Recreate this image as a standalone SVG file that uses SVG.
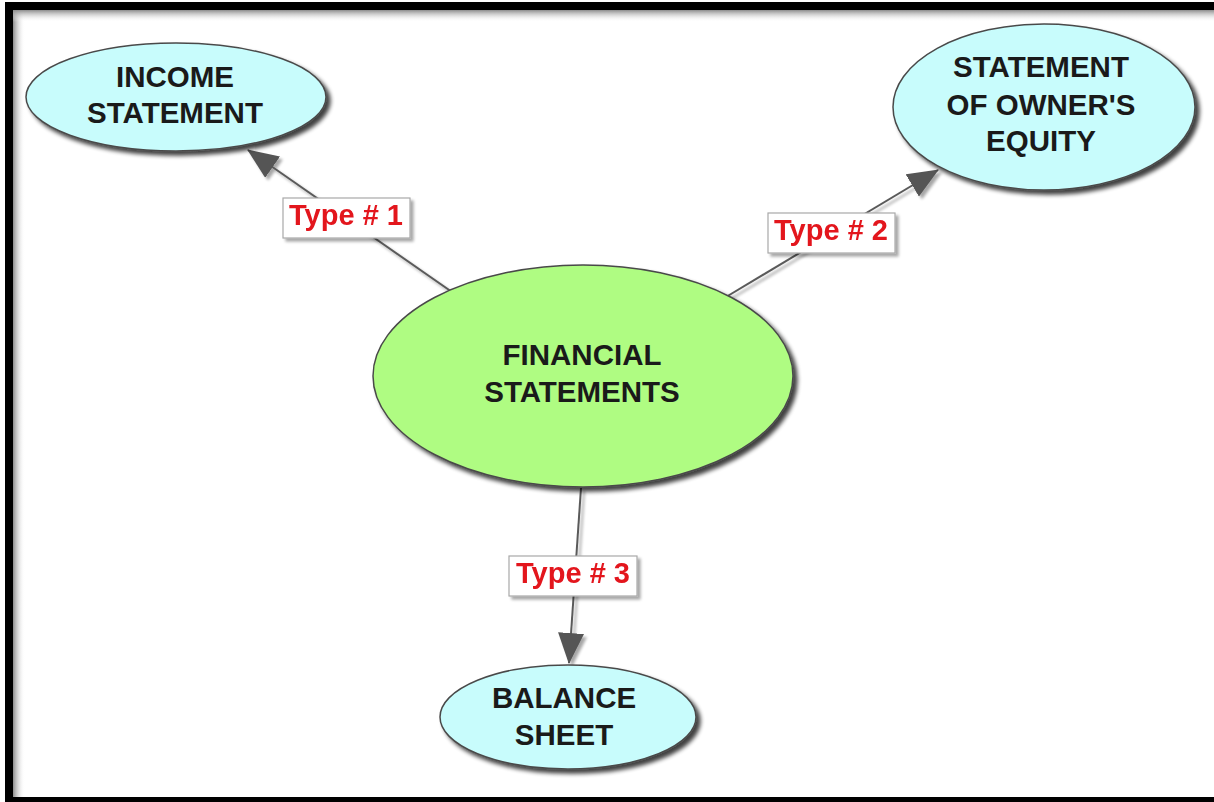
<svg xmlns="http://www.w3.org/2000/svg" width="1214" height="802" viewBox="0 0 1214 802">
  <defs>
    <style>
      .node-text { font-family: "Liberation Sans", Arial, sans-serif; font-weight: bold; font-size: 29.5px; fill: #1a1a1a; text-anchor: middle; }
      .label-text { font-family: "Liberation Sans", Arial, sans-serif; font-weight: bold; font-size: 29px; fill: #e3151f; text-anchor: middle; }
      .leaf { fill: #c8fcfc; stroke: #4a4a4a; stroke-width: 1.5; }
      .hub { fill: #affc82; stroke: #4a4a4a; stroke-width: 1.5; }
      .edge { stroke: #5a5a5a; stroke-width: 2; fill: none; }
      .label-box { fill: #ffffff; stroke: #a8a8a8; stroke-width: 1.2; }
    </style>
    <filter id="shadow" x="-20%" y="-20%" width="140%" height="150%">
      <feGaussianBlur in="SourceAlpha" stdDeviation="2.2"/>
      <feOffset dx="4" dy="4" result="off"/>
      <feComponentTransfer><feFuncA type="linear" slope="0.75"/></feComponentTransfer>
      <feMerge><feMergeNode/><feMergeNode in="SourceGraphic"/></feMerge>
    </filter>
    <filter id="soft" x="-20%" y="-20%" width="140%" height="150%">
      <feGaussianBlur in="SourceAlpha" stdDeviation="1.5"/>
      <feOffset dx="3" dy="3"/>
      <feComponentTransfer><feFuncA type="linear" slope="0.35"/></feComponentTransfer>
      <feMerge><feMergeNode/><feMergeNode in="SourceGraphic"/></feMerge>
    </filter>
    <marker id="arrow" markerUnits="userSpaceOnUse" markerWidth="31" markerHeight="26" viewBox="0 0 31 26" refX="30" refY="13" orient="auto">
      <path d="M0,0 L31,13 L0,26 Z" fill="#555555"/>
    </marker>
    <linearGradient id="shadeLeft" x1="0" y1="0" x2="1" y2="0">
      <stop offset="0" stop-color="#8c8c8c"/>
      <stop offset="1" stop-color="#ffffff" stop-opacity="0"/>
    </linearGradient>
    <linearGradient id="shadeTop" x1="0" y1="0" x2="0" y2="1">
      <stop offset="0" stop-color="#8c8c8c"/>
      <stop offset="1" stop-color="#ffffff" stop-opacity="0"/>
    </linearGradient>
  </defs>

  <!-- page background and frame -->
  <rect x="0" y="0" width="1214" height="802" fill="#ffffff"/>
  <rect x="13" y="10" width="12" height="787" fill="url(#shadeLeft)"/>
  <rect x="13" y="10" width="1201" height="12" fill="url(#shadeTop)"/>
  <g id="frame" fill="#000000">
    <rect x="5" y="2" width="1209" height="8"/>
    <rect x="5" y="2" width="8" height="800"/>
    <rect x="5" y="797" width="1209" height="5"/>
  </g>

  <!-- connectors -->
  <g id="connectors" filter="url(#soft)">
    <line class="edge" x1="452" y1="292" x2="248" y2="150" marker-end="url(#arrow)"/>
    <line class="edge" x1="726" y1="297" x2="938" y2="170" marker-end="url(#arrow)"/>
    <line class="edge" x1="581" y1="488" x2="569" y2="663" marker-end="url(#arrow)"/>
  </g>

  <!-- connector labels -->
  <g id="label-type1" filter="url(#soft)">
    <rect class="label-box" x="283" y="198" width="127" height="40"/>
    <text class="label-text" x="346" y="225">Type # 1</text>
  </g>
  <g id="label-type2" filter="url(#soft)">
    <rect class="label-box" x="768" y="213" width="127" height="40"/>
    <text class="label-text" x="831" y="240">Type # 2</text>
  </g>
  <g id="label-type3" filter="url(#soft)">
    <rect class="label-box" x="509" y="556" width="128" height="40"/>
    <text class="label-text" x="573" y="583">Type # 3</text>
  </g>

  <!-- nodes -->
  <g id="node-income-statement">
    <ellipse class="leaf" cx="176" cy="97" rx="150" ry="54" filter="url(#shadow)"/>
    <text class="node-text" x="175" y="87">INCOME</text>
    <text class="node-text" x="175" y="123">STATEMENT</text>
  </g>
  <g id="node-owners-equity">
    <ellipse class="leaf" cx="1044" cy="107" rx="151" ry="83" filter="url(#shadow)"/>
    <text class="node-text" x="1041" y="77">STATEMENT</text>
    <text class="node-text" x="1041" y="115">OF OWNER'S</text>
    <text class="node-text" x="1041" y="151">EQUITY</text>
  </g>
  <g id="node-financial-statements">
    <ellipse class="hub" cx="583" cy="376" rx="210" ry="111" filter="url(#shadow)"/>
    <text class="node-text" x="582" y="365">FINANCIAL</text>
    <text class="node-text" x="582" y="402">STATEMENTS</text>
  </g>
  <g id="node-balance-sheet">
    <ellipse class="leaf" cx="568" cy="717" rx="128" ry="52" filter="url(#shadow)"/>
    <text class="node-text" x="564" y="708">BALANCE</text>
    <text class="node-text" x="564" y="745">SHEET</text>
  </g>
</svg>
